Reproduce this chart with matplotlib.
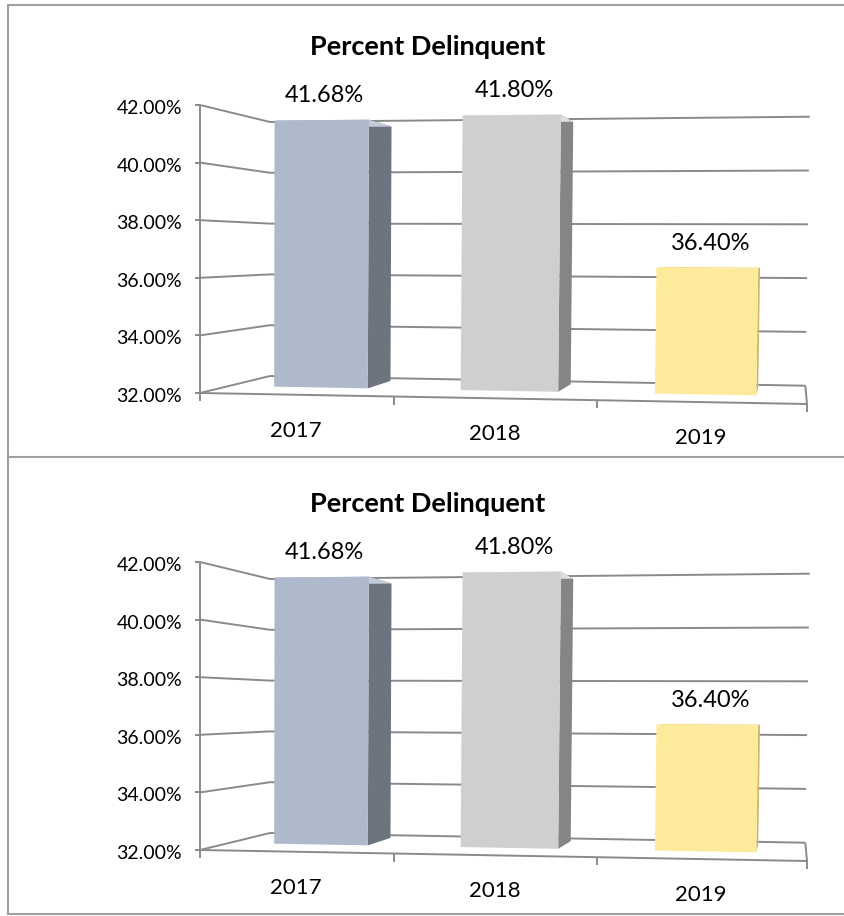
import matplotlib
matplotlib.use("Agg")
import matplotlib.pyplot as plt
from matplotlib.patches import Polygon

plt.rcParams['font.family'] = ['Lato', 'DejaVu Sans']

# Chart data
title = 'Percent Delinquent'
years = ['2017', '2018', '2019']
pct = [41.68, 41.80, 36.40]
y_ticks = [32, 34, 36, 38, 40, 42]
front_colors = ['#AEB9CB', '#CFCFCF', '#FEEA9B']
side_colors = ['#6D7480', '#858585', '#CDB56A']
top_colors = ['#C4CCDA', '#DEDEDE', '#F4DE8C']

VMIN, VMAX = y_ticks[0], y_ticks[-1]

# Perspective set-up (pixel space of one panel)
VP = (793, 249)      # vanishing point of the depth axis
DEPTH = 0.118        # how far the back wall sits toward VP
BAR_D0, BAR_D1 = 0.42, 0.85
BAR_HALF = 0.0845
GRID = '#8A8A8A'
PANEL_H = 457


def front(u, v):
    g = u - 0.06 * u * (1 - u)
    t = (v - VMIN) / (VMAX - VMIN)
    xl, yl = 200, 393 - 288 * t
    xr, yr = 807 + 5 * t, 404 - 305 * t
    return xl + (xr - xl) * g, yl + (yr - yl) * g


def proj(u, v, d, oy):
    x, y = front(u, v)
    f = DEPTH * d
    return x + (VP[0] - x) * f, y + (VP[1] - y) * f + oy


def line(ax, pts, **kw):
    ax.plot([p[0] for p in pts], [p[1] for p in pts], color=GRID,
            lw=1.4, solid_capstyle='butt', **kw)


def draw_panel(ax, oy):
    # walls and gridlines
    for v in y_ticks:
        line(ax, [proj(0, v, 0, oy), proj(0, v, 1, oy), proj(1, v, 1, oy)], zorder=1)
        x0, y0 = proj(0, v, 0, oy)
        line(ax, [(x0 - 5, y0), (x0, y0)], zorder=1)
        ax.text(x0 - 18, y0 + 9, f'{v:.2f}%', ha='right', va='baseline',
                fontsize=14, color='black')
    line(ax, [proj(0, VMIN, 0, oy), proj(0, VMAX, 0, oy)], zorder=1)
    # floor
    line(ax, [proj(0, VMIN, 0, oy), proj(1, VMIN, 0, oy), proj(1, VMIN, 1, oy)], zorder=1)
    n = len(years)
    for k in range(n + 1):
        x, y = proj(k / n, VMIN, 0, oy)
        line(ax, [(x, y), (x, y + 8)], zorder=1)

    # bars
    for i, (yr, val) in enumerate(zip(years, pct)):
        uc = (i + 0.5) / n
        ul, ur = uc - BAR_HALF, uc + BAR_HALF
        fl_b = proj(ul, VMIN, BAR_D0, oy)
        fr_b = proj(ur, VMIN, BAR_D0, oy)
        fr_t = proj(ur, val, BAR_D0, oy)
        fl_t = proj(ul, val, BAR_D0, oy)
        br_b = proj(ur, VMIN, BAR_D1, oy)
        br_t = proj(ur, val, BAR_D1, oy)
        bl_t = proj(ul, val, BAR_D1, oy)
        ax.add_patch(Polygon([fr_b, br_b, br_t, fr_t], closed=True,
                             fc=side_colors[i], ec='none', zorder=3))
        ax.add_patch(Polygon([fl_t, fr_t, br_t, bl_t], closed=True,
                             fc=top_colors[i], ec='none', zorder=3))
        ax.add_patch(Polygon([fl_b, fr_b, fr_t, fl_t], closed=True,
                             fc=front_colors[i], ec='none', zorder=4))
        # value label
        cx = (fl_t[0] + fr_t[0]) / 2
        top = min(fl_t[1], fr_t[1])
        ax.text(cx + 3, top - 18, f'{val:.2f}%', ha='center', va='baseline',
                fontsize=17, color='black', zorder=5)
        # category label
        x, y = proj(uc, VMIN, 0, oy)
        ax.text(x, y + 42, yr, ha='center', va='baseline', fontsize=16,
                color='black')

    ax.text(428, oy + 55, title, ha='center', va='baseline', fontsize=19.5,
            fontweight='bold', color='black')


fig = plt.figure(figsize=(8.44, 9.16), dpi=100)
ax = fig.add_axes([0, 0, 1, 1])
ax.set_xlim(0, 844)
ax.set_ylim(916, 0)
ax.axis('off')

for p in range(2):
    draw_panel(ax, p * PANEL_H)

# panel frames
FRAME = '#A0A0A0'
for yy in (5, PANEL_H, 2 * PANEL_H):
    ax.plot([8, 844], [yy, yy], color=FRAME, lw=1.5)
ax.plot([8, 8], [5, 2 * PANEL_H], color=FRAME, lw=1.5)

fig.savefig('out.png', dpi=100)
